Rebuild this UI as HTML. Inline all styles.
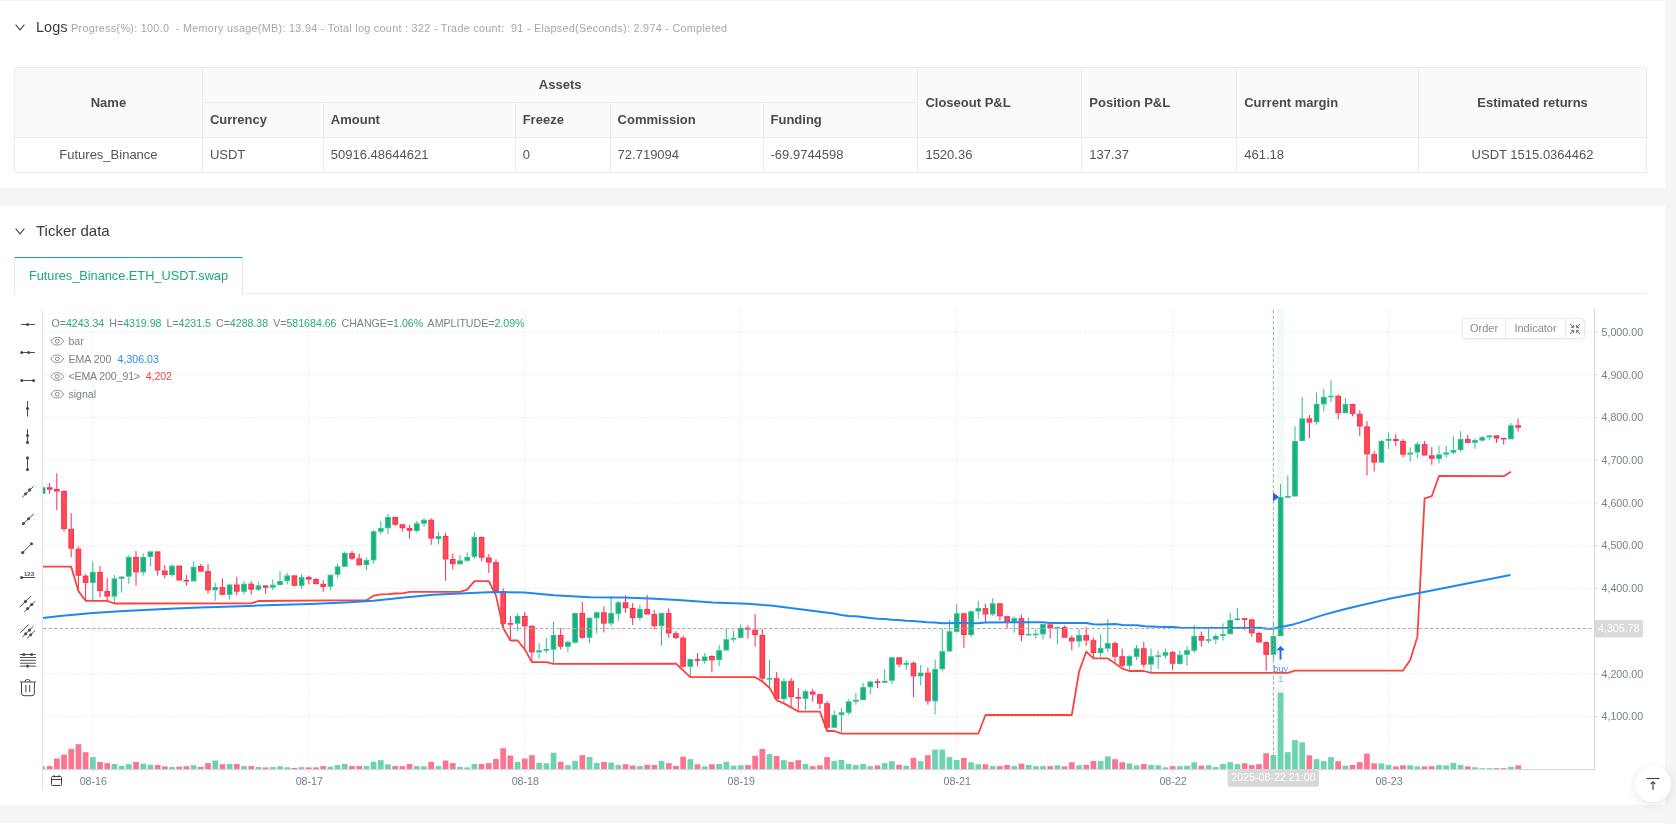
<!DOCTYPE html>
<html lang="en"><head><meta charset="utf-8"><title>Backtest</title>
<style>
*{box-sizing:border-box}
html,body{margin:0;padding:0}
body{width:1676px;height:824px;overflow:hidden;background:#f4f5f7;font-family:"Liberation Sans",sans-serif;color:#333;position:relative}
.card{position:absolute;left:0;width:1665px;background:#fff;will-change:transform}
#c1{top:1px;height:187px}
#c2{top:206px;height:599px}
#c3{top:823px;height:10px}
.hd{position:absolute;left:0;height:20px;display:flex;align-items:center;white-space:nowrap}
.hd svg{position:absolute;left:15px;top:7px}
.hd .t{position:absolute;left:36px;top:0;font-size:14.5px;line-height:20px;color:#3b3b3b}
.hd .s{position:absolute;left:71px;top:1px;font-size:10.8px;line-height:20px;color:#a6a6a6;letter-spacing:0.29px;white-space:pre}
table{position:absolute;left:14px;top:66px;width:1633px;border-collapse:separate;border-spacing:0;font-size:13px;color:#555;border-top:1px solid #ebebeb;border-left:1px solid #ebebeb;border-radius:3px}
th,td{border-right:1px solid #ebebeb;border-bottom:1px solid #ebebeb;height:35px;padding:0 0 0 7px;text-align:left;white-space:nowrap;font-weight:400}
th{background:#fafafa;font-weight:700;color:#4a4a4a}
.c{text-align:center;padding-left:0}
tbody td,thead tr:nth-child(2) th,thead th[colspan]{padding-bottom:2px}
.tab{position:absolute;left:14px;top:51px;width:229px;height:37px;border-top:1px solid #1bad7f;border-left:1px solid #e8e8e8;border-right:1px solid #e8e8e8;background:#fff;color:#1aa97b;font-size:12.75px;line-height:36px;text-align:center}
.tabline{position:absolute;left:14px;top:87px;width:1633px;height:1px;background:#ececec}
#chart{position:absolute;left:0;top:0}
.btns{position:absolute;left:1462px;top:112px;width:123px;height:21px;border:1px solid #e9e9e9;border-radius:4px;background:#fff;box-shadow:0 1px 3px rgba(0,0,0,.06);font-size:11px;color:#8a8a8a;line-height:19px}
.btns span{position:absolute;top:0;height:19px;text-align:center}
.btns i{position:absolute;top:0;width:1px;height:19px;background:#ececec}
.totop{position:absolute;left:1635px;top:766px;width:36px;height:36px;border-radius:50%;background:#fff;box-shadow:0 2px 10px rgba(0,0,0,.10)}
</style></head><body>
<div class="card" id="c1">
 <div class="hd" style="top:16px"><svg width="10" height="7" viewBox="0 0 10 7"><path d="M0.600 0.600L5 5.800L9.400 0.600" stroke="#444" stroke-width="1.1" fill="none"/></svg><span class="t">Logs</span><span class="s">Progress(%): 100.0  - Memory usage(MB): 13.94 - Total log count : 322 - Trade count:  91 - Elapsed(Seconds): 2.974 - Completed</span></div>
 <table>
  <colgroup><col style="width:188px"><col style="width:121px"><col style="width:192px"><col style="width:95px"><col style="width:153px"><col style="width:155px"><col style="width:164px"><col style="width:155px"><col style="width:182px"><col style="width:228px"></colgroup>
  <thead>
  <tr><th rowspan="2" class="c">Name</th><th colspan="5" class="c">Assets</th><th rowspan="2">Closeout P&amp;L</th><th rowspan="2">Position P&amp;L</th><th rowspan="2">Current margin</th><th rowspan="2" class="c">Estimated returns</th></tr>
  <tr><th>Currency</th><th>Amount</th><th>Freeze</th><th>Commission</th><th>Funding</th></tr>
  </thead>
  <tbody>
  <tr><td class="c">Futures_Binance</td><td>USDT</td><td>50916.48644621</td><td>0</td><td>72.719094</td><td>-69.9744598</td><td>1520.36</td><td>137.37</td><td>461.18</td><td class="c">USDT 1515.0364462</td></tr>
  </tbody>
 </table>
</div>
<div class="card" id="c2">
 <div class="hd" style="top:15px"><svg width="10" height="7" viewBox="0 0 10 7"><path d="M0.600 0.600L5 5.800L9.400 0.600" stroke="#444" stroke-width="1.1" fill="none"/></svg><span class="t" style="font-size:15px">Ticker data</span></div>
 <div class="tabline"></div>
 <div class="tab">Futures_Binance.ETH_USDT.swap</div>
 <svg id="chart" width="1665" height="599" viewBox="0 206 1665 599" font-family="Liberation Sans, sans-serif">
<g stroke="#e9e9e9" stroke-width="1" stroke-dasharray="1.82 1.82" fill="none">
<path d="M43 332.0H1594"/>
<path d="M43 374.7H1594"/>
<path d="M43 417.4H1594"/>
<path d="M43 460.2H1594"/>
<path d="M43 502.9H1594"/>
<path d="M43 545.6H1594"/>
<path d="M43 588.3H1594"/>
<path d="M43 631.0H1594"/>
<path d="M43 673.8H1594"/>
<path d="M43 716.5H1594"/>
<path d="M92.84 309V769"/>
<path d="M308.80 309V769"/>
<path d="M524.75 309V769"/>
<path d="M740.71 309V769"/>
<path d="M956.66 309V769"/>
<path d="M1172.62 309V769"/>
<path d="M1388.57 309V769"/>
</g>
<rect x="1277" y="309" width="7" height="460" fill="#eef7f0" opacity="0.8"/>
<g id="vol">
<rect x="43.0" y="766.4" width="2.1" height="2.6" fill="#6cd3b0"/>
<rect x="46.8" y="766.1" width="5.7" height="2.9" fill="#fb7490"/>
<rect x="54.0" y="758.5" width="5.7" height="10.5" fill="#fb7490"/>
<rect x="61.2" y="754.6" width="5.7" height="14.4" fill="#fb7490"/>
<rect x="68.4" y="748.8" width="5.7" height="20.2" fill="#fb7490"/>
<rect x="75.6" y="744.2" width="5.7" height="24.8" fill="#fb7490"/>
<rect x="82.8" y="752.2" width="5.7" height="16.8" fill="#fb7490"/>
<rect x="90.0" y="757.1" width="5.7" height="11.9" fill="#6cd3b0"/>
<rect x="97.2" y="761.9" width="5.7" height="7.1" fill="#fb7490"/>
<rect x="104.4" y="763.1" width="5.7" height="5.9" fill="#fb7490"/>
<rect x="111.6" y="764.0" width="5.7" height="5.0" fill="#6cd3b0"/>
<rect x="118.8" y="765.9" width="5.7" height="3.1" fill="#6cd3b0"/>
<rect x="126.0" y="764.2" width="5.7" height="4.8" fill="#6cd3b0"/>
<rect x="133.2" y="762.0" width="5.7" height="7.0" fill="#fb7490"/>
<rect x="140.4" y="763.6" width="5.7" height="5.4" fill="#6cd3b0"/>
<rect x="147.6" y="764.7" width="5.7" height="4.3" fill="#6cd3b0"/>
<rect x="154.8" y="765.0" width="5.7" height="4.0" fill="#fb7490"/>
<rect x="162.0" y="766.4" width="5.7" height="2.6" fill="#fb7490"/>
<rect x="169.2" y="767.0" width="5.7" height="2.0" fill="#6cd3b0"/>
<rect x="176.4" y="766.7" width="5.7" height="2.3" fill="#fb7490"/>
<rect x="183.6" y="766.2" width="5.7" height="2.8" fill="#fb7490"/>
<rect x="190.8" y="765.3" width="5.7" height="3.7" fill="#6cd3b0"/>
<rect x="198.0" y="766.8" width="5.7" height="2.2" fill="#fb7490"/>
<rect x="205.2" y="763.1" width="5.7" height="5.9" fill="#fb7490"/>
<rect x="212.4" y="760.5" width="5.7" height="8.5" fill="#6cd3b0"/>
<rect x="219.6" y="764.2" width="5.7" height="4.8" fill="#fb7490"/>
<rect x="226.8" y="764.0" width="5.7" height="5.0" fill="#6cd3b0"/>
<rect x="234.0" y="764.0" width="5.7" height="5.0" fill="#fb7490"/>
<rect x="241.2" y="766.1" width="5.7" height="2.9" fill="#6cd3b0"/>
<rect x="248.4" y="766.1" width="5.7" height="2.9" fill="#fb7490"/>
<rect x="255.6" y="767.0" width="5.7" height="2.0" fill="#6cd3b0"/>
<rect x="262.8" y="767.4" width="5.7" height="1.6" fill="#fb7490"/>
<rect x="270.0" y="767.1" width="5.7" height="1.9" fill="#6cd3b0"/>
<rect x="277.2" y="766.4" width="5.7" height="2.6" fill="#6cd3b0"/>
<rect x="284.4" y="767.3" width="5.7" height="1.7" fill="#6cd3b0"/>
<rect x="291.5" y="767.9" width="5.7" height="1.1" fill="#fb7490"/>
<rect x="298.7" y="767.1" width="5.7" height="1.9" fill="#6cd3b0"/>
<rect x="305.9" y="767.4" width="5.7" height="1.6" fill="#fb7490"/>
<rect x="313.1" y="767.4" width="5.7" height="1.6" fill="#fb7490"/>
<rect x="320.3" y="766.1" width="5.7" height="2.9" fill="#fb7490"/>
<rect x="327.5" y="766.7" width="5.7" height="2.3" fill="#6cd3b0"/>
<rect x="334.7" y="765.1" width="5.7" height="3.9" fill="#6cd3b0"/>
<rect x="341.9" y="764.0" width="5.7" height="5.0" fill="#6cd3b0"/>
<rect x="349.1" y="766.1" width="5.7" height="2.9" fill="#fb7490"/>
<rect x="356.3" y="766.1" width="5.7" height="2.9" fill="#fb7490"/>
<rect x="363.5" y="766.1" width="5.7" height="2.9" fill="#6cd3b0"/>
<rect x="370.7" y="761.7" width="5.7" height="7.3" fill="#6cd3b0"/>
<rect x="377.9" y="760.2" width="5.7" height="8.8" fill="#6cd3b0"/>
<rect x="385.1" y="764.3" width="5.7" height="4.7" fill="#6cd3b0"/>
<rect x="392.3" y="766.1" width="5.7" height="2.9" fill="#fb7490"/>
<rect x="399.5" y="766.2" width="5.7" height="2.8" fill="#fb7490"/>
<rect x="406.7" y="764.0" width="5.7" height="5.0" fill="#fb7490"/>
<rect x="413.9" y="766.1" width="5.7" height="2.9" fill="#6cd3b0"/>
<rect x="421.1" y="766.4" width="5.7" height="2.6" fill="#6cd3b0"/>
<rect x="428.3" y="761.9" width="5.7" height="7.1" fill="#fb7490"/>
<rect x="435.5" y="766.1" width="5.7" height="2.9" fill="#6cd3b0"/>
<rect x="442.7" y="760.5" width="5.7" height="8.5" fill="#fb7490"/>
<rect x="449.9" y="763.1" width="5.7" height="5.9" fill="#fb7490"/>
<rect x="457.1" y="767.0" width="5.7" height="2.0" fill="#6cd3b0"/>
<rect x="464.3" y="767.4" width="5.7" height="1.6" fill="#6cd3b0"/>
<rect x="471.5" y="764.0" width="5.7" height="5.0" fill="#6cd3b0"/>
<rect x="478.7" y="764.0" width="5.7" height="5.0" fill="#fb7490"/>
<rect x="485.9" y="763.1" width="5.7" height="5.9" fill="#fb7490"/>
<rect x="493.1" y="758.9" width="5.7" height="10.1" fill="#fb7490"/>
<rect x="500.3" y="748.2" width="5.7" height="20.8" fill="#fb7490"/>
<rect x="507.5" y="755.5" width="5.7" height="13.5" fill="#fb7490"/>
<rect x="514.7" y="762.0" width="5.7" height="7.0" fill="#6cd3b0"/>
<rect x="521.9" y="758.6" width="5.7" height="10.4" fill="#fb7490"/>
<rect x="529.1" y="755.2" width="5.7" height="13.8" fill="#fb7490"/>
<rect x="536.3" y="762.8" width="5.7" height="6.2" fill="#6cd3b0"/>
<rect x="543.5" y="763.3" width="5.7" height="5.7" fill="#6cd3b0"/>
<rect x="550.7" y="752.7" width="5.7" height="16.3" fill="#6cd3b0"/>
<rect x="557.9" y="761.9" width="5.7" height="7.1" fill="#fb7490"/>
<rect x="565.1" y="765.1" width="5.7" height="3.9" fill="#6cd3b0"/>
<rect x="572.3" y="760.8" width="5.7" height="8.2" fill="#6cd3b0"/>
<rect x="579.5" y="755.2" width="5.7" height="13.8" fill="#fb7490"/>
<rect x="586.7" y="757.1" width="5.7" height="11.9" fill="#6cd3b0"/>
<rect x="593.9" y="763.0" width="5.7" height="6.0" fill="#6cd3b0"/>
<rect x="601.1" y="761.9" width="5.7" height="7.1" fill="#fb7490"/>
<rect x="608.3" y="762.5" width="5.7" height="6.5" fill="#6cd3b0"/>
<rect x="615.5" y="765.1" width="5.7" height="3.9" fill="#6cd3b0"/>
<rect x="622.7" y="764.2" width="5.7" height="4.8" fill="#fb7490"/>
<rect x="629.9" y="765.6" width="5.7" height="3.4" fill="#fb7490"/>
<rect x="637.1" y="766.1" width="5.7" height="2.9" fill="#6cd3b0"/>
<rect x="644.3" y="764.8" width="5.7" height="4.2" fill="#fb7490"/>
<rect x="651.5" y="765.0" width="5.7" height="4.0" fill="#fb7490"/>
<rect x="658.7" y="760.9" width="5.7" height="8.1" fill="#6cd3b0"/>
<rect x="665.9" y="763.1" width="5.7" height="5.9" fill="#fb7490"/>
<rect x="673.1" y="765.9" width="5.7" height="3.1" fill="#fb7490"/>
<rect x="680.3" y="756.6" width="5.7" height="12.4" fill="#fb7490"/>
<rect x="687.5" y="759.2" width="5.7" height="9.8" fill="#6cd3b0"/>
<rect x="694.7" y="764.3" width="5.7" height="4.7" fill="#fb7490"/>
<rect x="701.9" y="766.4" width="5.7" height="2.6" fill="#6cd3b0"/>
<rect x="709.1" y="764.3" width="5.7" height="4.7" fill="#fb7490"/>
<rect x="716.3" y="764.0" width="5.7" height="5.0" fill="#6cd3b0"/>
<rect x="723.5" y="761.7" width="5.7" height="7.3" fill="#6cd3b0"/>
<rect x="730.7" y="765.7" width="5.7" height="3.3" fill="#6cd3b0"/>
<rect x="737.9" y="765.3" width="5.7" height="3.7" fill="#6cd3b0"/>
<rect x="745.1" y="765.1" width="5.7" height="3.9" fill="#fb7490"/>
<rect x="752.3" y="755.8" width="5.7" height="13.2" fill="#fb7490"/>
<rect x="759.5" y="749.0" width="5.7" height="20.0" fill="#fb7490"/>
<rect x="766.6" y="754.1" width="5.7" height="14.9" fill="#6cd3b0"/>
<rect x="773.8" y="756.0" width="5.7" height="13.0" fill="#fb7490"/>
<rect x="781.0" y="760.2" width="5.7" height="8.8" fill="#6cd3b0"/>
<rect x="788.2" y="762.0" width="5.7" height="7.0" fill="#fb7490"/>
<rect x="795.4" y="760.2" width="5.7" height="8.8" fill="#fb7490"/>
<rect x="802.6" y="764.0" width="5.7" height="5.0" fill="#6cd3b0"/>
<rect x="809.8" y="766.2" width="5.7" height="2.8" fill="#fb7490"/>
<rect x="817.0" y="765.3" width="5.7" height="3.7" fill="#fb7490"/>
<rect x="824.2" y="757.1" width="5.7" height="11.9" fill="#fb7490"/>
<rect x="831.4" y="760.9" width="5.7" height="8.1" fill="#6cd3b0"/>
<rect x="838.6" y="760.0" width="5.7" height="9.0" fill="#6cd3b0"/>
<rect x="845.8" y="763.9" width="5.7" height="5.1" fill="#6cd3b0"/>
<rect x="853.0" y="765.1" width="5.7" height="3.9" fill="#6cd3b0"/>
<rect x="860.2" y="764.0" width="5.7" height="5.0" fill="#6cd3b0"/>
<rect x="867.4" y="766.2" width="5.7" height="2.8" fill="#6cd3b0"/>
<rect x="874.6" y="765.4" width="5.7" height="3.6" fill="#fb7490"/>
<rect x="881.8" y="763.1" width="5.7" height="5.9" fill="#6cd3b0"/>
<rect x="889.0" y="761.2" width="5.7" height="7.8" fill="#6cd3b0"/>
<rect x="896.2" y="764.8" width="5.7" height="4.2" fill="#fb7490"/>
<rect x="903.4" y="765.7" width="5.7" height="3.3" fill="#6cd3b0"/>
<rect x="910.6" y="757.8" width="5.7" height="11.2" fill="#fb7490"/>
<rect x="917.8" y="761.2" width="5.7" height="7.8" fill="#6cd3b0"/>
<rect x="925.0" y="755.2" width="5.7" height="13.8" fill="#fb7490"/>
<rect x="932.2" y="749.6" width="5.7" height="19.4" fill="#6cd3b0"/>
<rect x="939.4" y="749.6" width="5.7" height="19.4" fill="#6cd3b0"/>
<rect x="946.6" y="757.1" width="5.7" height="11.9" fill="#6cd3b0"/>
<rect x="953.8" y="760.0" width="5.7" height="9.0" fill="#6cd3b0"/>
<rect x="961.0" y="758.0" width="5.7" height="11.0" fill="#fb7490"/>
<rect x="968.2" y="762.3" width="5.7" height="6.7" fill="#6cd3b0"/>
<rect x="975.4" y="764.3" width="5.7" height="4.7" fill="#6cd3b0"/>
<rect x="982.6" y="764.3" width="5.7" height="4.7" fill="#fb7490"/>
<rect x="989.8" y="766.1" width="5.7" height="2.9" fill="#6cd3b0"/>
<rect x="997.0" y="766.2" width="5.7" height="2.8" fill="#fb7490"/>
<rect x="1004.2" y="765.0" width="5.7" height="4.0" fill="#fb7490"/>
<rect x="1011.4" y="766.1" width="5.7" height="2.9" fill="#6cd3b0"/>
<rect x="1018.6" y="763.6" width="5.7" height="5.4" fill="#fb7490"/>
<rect x="1025.8" y="765.0" width="5.7" height="4.0" fill="#6cd3b0"/>
<rect x="1033.0" y="766.2" width="5.7" height="2.8" fill="#6cd3b0"/>
<rect x="1040.2" y="766.2" width="5.7" height="2.8" fill="#6cd3b0"/>
<rect x="1047.4" y="766.2" width="5.7" height="2.8" fill="#fb7490"/>
<rect x="1054.6" y="765.3" width="5.7" height="3.7" fill="#6cd3b0"/>
<rect x="1061.8" y="766.4" width="5.7" height="2.6" fill="#fb7490"/>
<rect x="1069.0" y="762.3" width="5.7" height="6.7" fill="#fb7490"/>
<rect x="1076.2" y="765.3" width="5.7" height="3.7" fill="#6cd3b0"/>
<rect x="1083.4" y="764.8" width="5.7" height="4.2" fill="#fb7490"/>
<rect x="1090.6" y="760.9" width="5.7" height="8.1" fill="#fb7490"/>
<rect x="1097.8" y="760.9" width="5.7" height="8.1" fill="#6cd3b0"/>
<rect x="1105.0" y="756.3" width="5.7" height="12.7" fill="#6cd3b0"/>
<rect x="1112.2" y="759.2" width="5.7" height="9.8" fill="#fb7490"/>
<rect x="1119.4" y="762.3" width="5.7" height="6.7" fill="#fb7490"/>
<rect x="1126.6" y="763.4" width="5.7" height="5.6" fill="#6cd3b0"/>
<rect x="1133.8" y="765.4" width="5.7" height="3.6" fill="#6cd3b0"/>
<rect x="1141.0" y="764.0" width="5.7" height="5.0" fill="#fb7490"/>
<rect x="1148.2" y="765.1" width="5.7" height="3.9" fill="#6cd3b0"/>
<rect x="1155.4" y="765.3" width="5.7" height="3.7" fill="#6cd3b0"/>
<rect x="1162.6" y="767.3" width="5.7" height="1.7" fill="#6cd3b0"/>
<rect x="1169.8" y="766.2" width="5.7" height="2.8" fill="#fb7490"/>
<rect x="1177.0" y="766.2" width="5.7" height="2.8" fill="#6cd3b0"/>
<rect x="1184.2" y="765.7" width="5.7" height="3.3" fill="#6cd3b0"/>
<rect x="1191.4" y="762.3" width="5.7" height="6.7" fill="#6cd3b0"/>
<rect x="1198.6" y="765.7" width="5.7" height="3.3" fill="#fb7490"/>
<rect x="1205.8" y="765.3" width="5.7" height="3.7" fill="#6cd3b0"/>
<rect x="1213.0" y="767.0" width="5.7" height="2.0" fill="#6cd3b0"/>
<rect x="1220.2" y="764.0" width="5.7" height="5.0" fill="#6cd3b0"/>
<rect x="1227.4" y="762.2" width="5.7" height="6.8" fill="#6cd3b0"/>
<rect x="1234.6" y="764.2" width="5.7" height="4.8" fill="#6cd3b0"/>
<rect x="1241.8" y="763.3" width="5.7" height="5.7" fill="#fb7490"/>
<rect x="1248.9" y="765.1" width="5.7" height="3.9" fill="#fb7490"/>
<rect x="1256.1" y="764.2" width="5.7" height="4.8" fill="#fb7490"/>
<rect x="1263.3" y="753.2" width="5.7" height="15.8" fill="#fb7490"/>
<rect x="1270.5" y="755.0" width="5.7" height="14.0" fill="#6cd3b0"/>
<rect x="1277.7" y="692.6" width="5.7" height="76.4" fill="#6cd3b0"/>
<rect x="1284.9" y="752.1" width="5.7" height="16.9" fill="#6cd3b0"/>
<rect x="1292.1" y="740.1" width="5.7" height="28.9" fill="#6cd3b0"/>
<rect x="1299.3" y="742.3" width="5.7" height="26.7" fill="#6cd3b0"/>
<rect x="1306.5" y="755.3" width="5.7" height="13.7" fill="#fb7490"/>
<rect x="1313.7" y="759.2" width="5.7" height="9.8" fill="#6cd3b0"/>
<rect x="1320.9" y="761.1" width="5.7" height="7.9" fill="#6cd3b0"/>
<rect x="1328.1" y="757.1" width="5.7" height="11.9" fill="#6cd3b0"/>
<rect x="1335.3" y="761.2" width="5.7" height="7.8" fill="#fb7490"/>
<rect x="1342.5" y="765.7" width="5.7" height="3.3" fill="#6cd3b0"/>
<rect x="1349.7" y="765.0" width="5.7" height="4.0" fill="#fb7490"/>
<rect x="1356.9" y="762.2" width="5.7" height="6.8" fill="#fb7490"/>
<rect x="1364.1" y="753.6" width="5.7" height="15.4" fill="#fb7490"/>
<rect x="1371.3" y="763.3" width="5.7" height="5.7" fill="#fb7490"/>
<rect x="1378.5" y="763.4" width="5.7" height="5.6" fill="#6cd3b0"/>
<rect x="1385.7" y="765.0" width="5.7" height="4.0" fill="#6cd3b0"/>
<rect x="1392.9" y="766.4" width="5.7" height="2.6" fill="#fb7490"/>
<rect x="1400.1" y="765.3" width="5.7" height="3.7" fill="#fb7490"/>
<rect x="1407.3" y="765.4" width="5.7" height="3.6" fill="#6cd3b0"/>
<rect x="1414.5" y="766.4" width="5.7" height="2.6" fill="#6cd3b0"/>
<rect x="1421.7" y="766.4" width="5.7" height="2.6" fill="#fb7490"/>
<rect x="1428.9" y="766.2" width="5.7" height="2.8" fill="#fb7490"/>
<rect x="1436.1" y="765.1" width="5.7" height="3.9" fill="#6cd3b0"/>
<rect x="1443.3" y="765.4" width="5.7" height="3.6" fill="#6cd3b0"/>
<rect x="1450.5" y="763.0" width="5.7" height="6.0" fill="#6cd3b0"/>
<rect x="1457.7" y="765.1" width="5.7" height="3.9" fill="#6cd3b0"/>
<rect x="1464.9" y="766.4" width="5.7" height="2.6" fill="#fb7490"/>
<rect x="1472.1" y="767.3" width="5.7" height="1.7" fill="#6cd3b0"/>
<rect x="1479.3" y="768.2" width="5.7" height="0.8" fill="#6cd3b0"/>
<rect x="1486.5" y="768.2" width="5.7" height="0.8" fill="#6cd3b0"/>
<rect x="1493.7" y="768.2" width="5.7" height="0.8" fill="#fb7490"/>
<rect x="1500.9" y="768.2" width="5.7" height="0.8" fill="#fb7490"/>
<rect x="1508.1" y="766.8" width="5.7" height="2.2" fill="#6cd3b0"/>
<rect x="1515.3" y="765.4" width="5.7" height="3.6" fill="#fb7490"/>
</g>
<g id="candles" stroke-width="1">
<rect x="43" y="487.3" width="2.3" height="6.4" fill="#1aaf80"/>
<path d="M49.6 483.1V487.3M49.6 489.7V493.7" stroke="#f92855" fill="none"/>
<rect x="47.4" y="487.8" width="4.600" height="1.4" fill="#ff4d4f" stroke="#f92855"/>
<path d="M56.8 473.3V488.9M56.8 491.5V510.1" stroke="#f92855" fill="none"/>
<rect x="54.5" y="489.4" width="4.600" height="1.6" fill="#ff4d4f" stroke="#f92855"/>
<path d="M64.0 490.4V490.9M64.0 529.2V531.6" stroke="#f92855" fill="none"/>
<rect x="61.7" y="491.4" width="4.600" height="37.3" fill="#ff4d4f" stroke="#f92855"/>
<path d="M71.2 513.2V528.8M71.2 548.7V557.4" stroke="#f92855" fill="none"/>
<rect x="68.9" y="529.3" width="4.600" height="18.9" fill="#ff4d4f" stroke="#f92855"/>
<path d="M78.4 546.5V548.7M78.4 575.6V591.1" stroke="#f92855" fill="none"/>
<rect x="76.1" y="549.2" width="4.600" height="26.0" fill="#ff4d4f" stroke="#f92855"/>
<path d="M85.6 574.2V575.6M85.6 582.9V600.2" stroke="#f92855" fill="none"/>
<rect x="83.3" y="576.1" width="4.600" height="6.3" fill="#ff4d4f" stroke="#f92855"/>
<path d="M92.8 561.4V572.0M92.8 582.9V600.2" stroke="#2dc08e" fill="none"/>
<rect x="90.5" y="572.5" width="4.600" height="9.9" fill="#1aaf80" stroke="#2dc08e"/>
<path d="M100.0 566.2V572.0M100.0 591.1V597.5" stroke="#f92855" fill="none"/>
<rect x="97.7" y="572.5" width="4.600" height="18.1" fill="#ff4d4f" stroke="#f92855"/>
<path d="M107.2 578.0V591.1M107.2 596.6V600.2" stroke="#f92855" fill="none"/>
<rect x="104.9" y="591.6" width="4.600" height="4.5" fill="#ff4d4f" stroke="#f92855"/>
<path d="M114.4 575.1V578.4M114.4 596.6V603.0" stroke="#2dc08e" fill="none"/>
<rect x="112.1" y="578.9" width="4.600" height="17.2" fill="#1aaf80" stroke="#2dc08e"/>
<path d="M121.6 576.2V576.6M121.6 578.7V592.6" stroke="#2dc08e" fill="none"/>
<rect x="119.3" y="577.1" width="4.600" height="1.2" fill="#1aaf80" stroke="#2dc08e"/>
<path d="M128.8 555.2V556.9M128.8 576.6V583.8" stroke="#2dc08e" fill="none"/>
<rect x="126.5" y="557.4" width="4.600" height="18.7" fill="#1aaf80" stroke="#2dc08e"/>
<path d="M136.0 551.1V556.9M136.0 572.4V585.7" stroke="#f92855" fill="none"/>
<rect x="133.7" y="557.4" width="4.600" height="14.5" fill="#ff4d4f" stroke="#f92855"/>
<path d="M143.2 553.4V556.9M143.2 572.4V575.6" stroke="#2dc08e" fill="none"/>
<rect x="140.9" y="557.4" width="4.600" height="14.5" fill="#1aaf80" stroke="#2dc08e"/>
<path d="M150.4 551.1V551.4M150.4 556.9V566.5" stroke="#2dc08e" fill="none"/>
<rect x="148.1" y="551.9" width="4.600" height="4.5" fill="#1aaf80" stroke="#2dc08e"/>
<path d="M157.6 551.4V551.4M157.6 570.5V575.6" stroke="#f92855" fill="none"/>
<rect x="155.3" y="551.9" width="4.600" height="18.1" fill="#ff4d4f" stroke="#f92855"/>
<path d="M164.8 565.1V570.5M164.8 575.1V578.4" stroke="#f92855" fill="none"/>
<rect x="162.5" y="571.0" width="4.600" height="3.6" fill="#ff4d4f" stroke="#f92855"/>
<path d="M172.0 564.4V565.6M172.0 575.1V576.6" stroke="#2dc08e" fill="none"/>
<rect x="169.7" y="566.1" width="4.600" height="8.5" fill="#1aaf80" stroke="#2dc08e"/>
<path d="M179.2 565.6V565.6M179.2 580.6V580.6" stroke="#f92855" fill="none"/>
<rect x="176.9" y="566.1" width="4.600" height="13.9" fill="#ff4d4f" stroke="#f92855"/>
<path d="M186.4 575.1V579.9M186.4 581.5V585.7" stroke="#f92855" fill="none"/>
<rect x="184.1" y="580.4" width="4.600" height="0.6" fill="#ff4d4f" stroke="#f92855"/>
<path d="M193.6 561.4V566.7M193.6 581.4V581.4" stroke="#2dc08e" fill="none"/>
<rect x="191.3" y="567.2" width="4.600" height="13.7" fill="#1aaf80" stroke="#2dc08e"/>
<path d="M200.8 564.0V566.0M200.8 571.6V571.6" stroke="#f92855" fill="none"/>
<rect x="198.5" y="566.5" width="4.600" height="4.6" fill="#ff4d4f" stroke="#f92855"/>
<path d="M208.0 564.0V571.1M208.0 590.5V593.8" stroke="#f92855" fill="none"/>
<rect x="205.7" y="571.6" width="4.600" height="18.3" fill="#ff4d4f" stroke="#f92855"/>
<path d="M215.2 583.1V587.1M215.2 590.5V600.7" stroke="#2dc08e" fill="none"/>
<rect x="212.9" y="587.6" width="4.600" height="2.3" fill="#1aaf80" stroke="#2dc08e"/>
<path d="M222.4 578.3V587.1M222.4 594.7V595.4" stroke="#f92855" fill="none"/>
<rect x="220.1" y="587.6" width="4.600" height="6.6" fill="#ff4d4f" stroke="#f92855"/>
<path d="M229.6 584.1V584.5M229.6 594.7V599.7" stroke="#2dc08e" fill="none"/>
<rect x="227.3" y="585.0" width="4.600" height="9.3" fill="#1aaf80" stroke="#2dc08e"/>
<path d="M236.8 576.7V584.5M236.8 591.7V595.4" stroke="#f92855" fill="none"/>
<rect x="234.5" y="585.0" width="4.600" height="6.2" fill="#ff4d4f" stroke="#f92855"/>
<path d="M244.0 581.4V583.7M244.0 591.7V594.7" stroke="#2dc08e" fill="none"/>
<rect x="241.7" y="584.2" width="4.600" height="7.0" fill="#1aaf80" stroke="#2dc08e"/>
<path d="M251.2 581.1V583.7M251.2 589.7V594.7" stroke="#f92855" fill="none"/>
<rect x="248.9" y="584.2" width="4.600" height="5.0" fill="#ff4d4f" stroke="#f92855"/>
<path d="M258.4 582.1V585.4M258.4 589.7V591.0" stroke="#2dc08e" fill="none"/>
<rect x="256.1" y="585.9" width="4.600" height="3.3" fill="#1aaf80" stroke="#2dc08e"/>
<path d="M265.6 585.0V585.4M265.6 587.7V593.8" stroke="#f92855" fill="none"/>
<rect x="263.3" y="585.9" width="4.600" height="1.3" fill="#ff4d4f" stroke="#f92855"/>
<path d="M272.8 579.4V584.7M272.8 587.7V590.1" stroke="#2dc08e" fill="none"/>
<rect x="270.5" y="585.2" width="4.600" height="1.9" fill="#1aaf80" stroke="#2dc08e"/>
<path d="M280.0 571.1V581.1M280.0 585.0V585.4" stroke="#2dc08e" fill="none"/>
<rect x="277.7" y="581.6" width="4.600" height="2.9" fill="#1aaf80" stroke="#2dc08e"/>
<path d="M287.2 573.1V575.4M287.2 581.1V584.5" stroke="#2dc08e" fill="none"/>
<rect x="284.9" y="575.9" width="4.600" height="4.7" fill="#1aaf80" stroke="#2dc08e"/>
<path d="M294.4 575.1V575.4M294.4 585.8V586.3" stroke="#f92855" fill="none"/>
<rect x="292.1" y="575.9" width="4.600" height="9.4" fill="#ff4d4f" stroke="#f92855"/>
<path d="M301.6 574.1V577.1M301.6 585.8V588.7" stroke="#2dc08e" fill="none"/>
<rect x="299.3" y="577.6" width="4.600" height="7.7" fill="#1aaf80" stroke="#2dc08e"/>
<path d="M308.8 575.7V577.1M308.8 579.7V584.5" stroke="#f92855" fill="none"/>
<rect x="306.5" y="577.6" width="4.600" height="1.5" fill="#ff4d4f" stroke="#f92855"/>
<path d="M316.0 578.1V579.0M316.0 584.1V584.5" stroke="#f92855" fill="none"/>
<rect x="313.7" y="579.5" width="4.600" height="4.1" fill="#ff4d4f" stroke="#f92855"/>
<path d="M323.2 580.1V583.8M323.2 586.9V591.7" stroke="#f92855" fill="none"/>
<rect x="320.9" y="584.3" width="4.600" height="2.1" fill="#ff4d4f" stroke="#f92855"/>
<path d="M330.4 574.5V574.7M330.4 586.7V590.1" stroke="#2dc08e" fill="none"/>
<rect x="328.1" y="575.2" width="4.600" height="11.0" fill="#1aaf80" stroke="#2dc08e"/>
<path d="M337.6 564.0V566.4M337.6 574.7V577.8" stroke="#2dc08e" fill="none"/>
<rect x="335.3" y="566.9" width="4.600" height="7.3" fill="#1aaf80" stroke="#2dc08e"/>
<path d="M344.8 551.7V553.0M344.8 566.8V566.8" stroke="#2dc08e" fill="none"/>
<rect x="342.5" y="553.5" width="4.600" height="12.7" fill="#1aaf80" stroke="#2dc08e"/>
<path d="M352.0 551.0V553.0M352.0 558.8V560.0" stroke="#f92855" fill="none"/>
<rect x="349.7" y="553.5" width="4.600" height="4.7" fill="#ff4d4f" stroke="#f92855"/>
<path d="M359.2 553.7V558.4M359.2 565.3V565.7" stroke="#f92855" fill="none"/>
<rect x="356.9" y="558.9" width="4.600" height="5.9" fill="#ff4d4f" stroke="#f92855"/>
<path d="M366.4 557.7V560.1M366.4 565.0V570.4" stroke="#2dc08e" fill="none"/>
<rect x="364.1" y="560.6" width="4.600" height="3.9" fill="#1aaf80" stroke="#2dc08e"/>
<path d="M373.6 530.1V531.3M373.6 560.4V563.7" stroke="#2dc08e" fill="none"/>
<rect x="371.3" y="531.8" width="4.600" height="28.1" fill="#1aaf80" stroke="#2dc08e"/>
<path d="M380.8 521.0V528.1M380.8 531.7V534.1" stroke="#2dc08e" fill="none"/>
<rect x="378.5" y="528.6" width="4.600" height="2.6" fill="#1aaf80" stroke="#2dc08e"/>
<path d="M388.0 513.9V517.0M388.0 528.4V534.1" stroke="#2dc08e" fill="none"/>
<rect x="385.7" y="517.5" width="4.600" height="10.3" fill="#1aaf80" stroke="#2dc08e"/>
<path d="M395.2 517.0V517.0M395.2 524.7V526.0" stroke="#f92855" fill="none"/>
<rect x="392.9" y="517.5" width="4.600" height="6.7" fill="#ff4d4f" stroke="#f92855"/>
<path d="M402.4 524.1V524.3M402.4 528.4V531.7" stroke="#f92855" fill="none"/>
<rect x="400.1" y="524.8" width="4.600" height="3.0" fill="#ff4d4f" stroke="#f92855"/>
<path d="M409.6 525.0V528.1M409.6 530.8V538.8" stroke="#f92855" fill="none"/>
<rect x="407.3" y="528.6" width="4.600" height="1.7" fill="#ff4d4f" stroke="#f92855"/>
<path d="M416.8 521.0V523.3M416.8 531.0V532.6" stroke="#2dc08e" fill="none"/>
<rect x="414.5" y="523.8" width="4.600" height="6.7" fill="#1aaf80" stroke="#2dc08e"/>
<path d="M424.0 518.1V519.7M424.0 523.7V526.8" stroke="#2dc08e" fill="none"/>
<rect x="421.7" y="520.2" width="4.600" height="3.0" fill="#1aaf80" stroke="#2dc08e"/>
<path d="M431.2 518.1V519.7M431.2 538.6V544.8" stroke="#f92855" fill="none"/>
<rect x="428.9" y="520.2" width="4.600" height="17.9" fill="#ff4d4f" stroke="#f92855"/>
<path d="M438.4 531.7V536.1M438.4 539.0V544.4" stroke="#2dc08e" fill="none"/>
<rect x="436.1" y="536.6" width="4.600" height="1.9" fill="#1aaf80" stroke="#2dc08e"/>
<path d="M445.6 532.8V536.1M445.6 559.4V580.8" stroke="#f92855" fill="none"/>
<rect x="443.3" y="536.6" width="4.600" height="22.4" fill="#ff4d4f" stroke="#f92855"/>
<path d="M452.8 553.7V559.0M452.8 564.1V569.5" stroke="#f92855" fill="none"/>
<rect x="450.5" y="559.5" width="4.600" height="4.1" fill="#ff4d4f" stroke="#f92855"/>
<path d="M460.0 555.3V560.4M460.0 564.4V564.4" stroke="#2dc08e" fill="none"/>
<rect x="457.7" y="560.9" width="4.600" height="3.0" fill="#1aaf80" stroke="#2dc08e"/>
<path d="M467.2 552.4V556.8M467.2 560.6V562.0" stroke="#2dc08e" fill="none"/>
<rect x="464.9" y="557.3" width="4.600" height="2.9" fill="#1aaf80" stroke="#2dc08e"/>
<path d="M474.4 532.0V536.8M474.4 556.8V558.8" stroke="#2dc08e" fill="none"/>
<rect x="472.1" y="537.3" width="4.600" height="19.0" fill="#1aaf80" stroke="#2dc08e"/>
<path d="M481.6 536.4V537.0M481.6 557.7V561.4" stroke="#f92855" fill="none"/>
<rect x="479.3" y="537.5" width="4.600" height="19.7" fill="#ff4d4f" stroke="#f92855"/>
<path d="M488.8 554.1V557.4M488.8 562.6V573.1" stroke="#f92855" fill="none"/>
<rect x="486.5" y="557.9" width="4.600" height="4.2" fill="#ff4d4f" stroke="#f92855"/>
<path d="M496.0 559.3V562.1M496.0 591.0V591.4" stroke="#f92855" fill="none"/>
<rect x="493.7" y="562.6" width="4.600" height="27.9" fill="#ff4d4f" stroke="#f92855"/>
<path d="M503.2 588.3V591.0M503.2 623.8V628.1" stroke="#f92855" fill="none"/>
<rect x="500.9" y="591.5" width="4.600" height="31.8" fill="#ff4d4f" stroke="#f92855"/>
<path d="M510.4 616.0V623.1M510.4 624.7V640.1" stroke="#f92855" fill="none"/>
<rect x="508.1" y="623.6" width="4.600" height="0.6" fill="#ff4d4f" stroke="#f92855"/>
<path d="M517.6 613.4V616.0M517.6 623.8V630.7" stroke="#2dc08e" fill="none"/>
<rect x="515.3" y="616.5" width="4.600" height="6.7" fill="#1aaf80" stroke="#2dc08e"/>
<path d="M524.8 611.8V616.0M524.8 626.3V648.7" stroke="#f92855" fill="none"/>
<rect x="522.5" y="616.5" width="4.600" height="9.3" fill="#ff4d4f" stroke="#f92855"/>
<path d="M531.9 625.4V625.8M531.9 652.3V662.1" stroke="#f92855" fill="none"/>
<rect x="529.6" y="626.3" width="4.600" height="25.6" fill="#ff4d4f" stroke="#f92855"/>
<path d="M539.1 643.1V650.3M539.1 652.5V658.5" stroke="#2dc08e" fill="none"/>
<rect x="536.8" y="650.8" width="4.600" height="1.1" fill="#1aaf80" stroke="#2dc08e"/>
<path d="M546.3 637.8V649.1M546.3 650.7V653.0" stroke="#2dc08e" fill="none"/>
<rect x="544.0" y="649.6" width="4.600" height="0.6" fill="#1aaf80" stroke="#2dc08e"/>
<path d="M553.5 621.6V635.0M553.5 649.7V663.4" stroke="#2dc08e" fill="none"/>
<rect x="551.2" y="635.5" width="4.600" height="13.7" fill="#1aaf80" stroke="#2dc08e"/>
<path d="M560.7 628.1V635.0M560.7 646.7V649.4" stroke="#f92855" fill="none"/>
<rect x="558.4" y="635.5" width="4.600" height="10.7" fill="#ff4d4f" stroke="#f92855"/>
<path d="M567.9 640.5V641.8M567.9 646.7V652.1" stroke="#2dc08e" fill="none"/>
<rect x="565.6" y="642.3" width="4.600" height="3.9" fill="#1aaf80" stroke="#2dc08e"/>
<path d="M575.1 613.0V613.1M575.1 642.7V643.8" stroke="#2dc08e" fill="none"/>
<rect x="572.8" y="613.6" width="4.600" height="28.6" fill="#1aaf80" stroke="#2dc08e"/>
<path d="M582.3 602.0V613.1M582.3 637.8V638.7" stroke="#f92855" fill="none"/>
<rect x="580.0" y="613.6" width="4.600" height="23.7" fill="#ff4d4f" stroke="#f92855"/>
<path d="M589.5 617.1V617.8M589.5 637.8V643.1" stroke="#2dc08e" fill="none"/>
<rect x="587.2" y="618.3" width="4.600" height="19.0" fill="#1aaf80" stroke="#2dc08e"/>
<path d="M596.7 611.8V612.3M596.7 618.3V633.1" stroke="#2dc08e" fill="none"/>
<rect x="594.4" y="612.8" width="4.600" height="5.0" fill="#1aaf80" stroke="#2dc08e"/>
<path d="M603.9 606.4V612.3M603.9 623.7V632.5" stroke="#f92855" fill="none"/>
<rect x="601.6" y="612.8" width="4.600" height="10.3" fill="#ff4d4f" stroke="#f92855"/>
<path d="M611.1 596.7V613.1M611.1 623.7V626.1" stroke="#2dc08e" fill="none"/>
<rect x="608.8" y="613.6" width="4.600" height="9.5" fill="#1aaf80" stroke="#2dc08e"/>
<path d="M618.3 601.1V602.3M618.3 613.8V620.7" stroke="#2dc08e" fill="none"/>
<rect x="616.0" y="602.8" width="4.600" height="10.5" fill="#1aaf80" stroke="#2dc08e"/>
<path d="M625.5 595.4V602.3M625.5 608.3V612.7" stroke="#f92855" fill="none"/>
<rect x="623.2" y="602.8" width="4.600" height="5.0" fill="#ff4d4f" stroke="#f92855"/>
<path d="M632.7 603.0V608.0M632.7 618.0V625.1" stroke="#f92855" fill="none"/>
<rect x="630.4" y="608.5" width="4.600" height="9.0" fill="#ff4d4f" stroke="#f92855"/>
<path d="M639.9 604.7V609.0M639.9 618.0V620.7" stroke="#2dc08e" fill="none"/>
<rect x="637.6" y="609.5" width="4.600" height="8.1" fill="#1aaf80" stroke="#2dc08e"/>
<path d="M647.1 595.0V609.0M647.1 614.4V614.4" stroke="#f92855" fill="none"/>
<rect x="644.8" y="609.5" width="4.600" height="4.5" fill="#ff4d4f" stroke="#f92855"/>
<path d="M654.3 610.2V614.1M654.3 626.2V629.6" stroke="#f92855" fill="none"/>
<rect x="652.0" y="614.6" width="4.600" height="11.1" fill="#ff4d4f" stroke="#f92855"/>
<path d="M661.5 613.1V613.1M661.5 626.2V645.6" stroke="#2dc08e" fill="none"/>
<rect x="659.2" y="613.6" width="4.600" height="12.1" fill="#1aaf80" stroke="#2dc08e"/>
<path d="M668.7 608.3V613.1M668.7 633.5V637.6" stroke="#f92855" fill="none"/>
<rect x="666.4" y="613.6" width="4.600" height="19.4" fill="#ff4d4f" stroke="#f92855"/>
<path d="M675.9 631.3V633.2M675.9 637.9V639.3" stroke="#f92855" fill="none"/>
<rect x="673.6" y="633.7" width="4.600" height="3.7" fill="#ff4d4f" stroke="#f92855"/>
<path d="M683.1 635.4V637.6M683.1 666.7V667.7" stroke="#f92855" fill="none"/>
<rect x="680.8" y="638.1" width="4.600" height="28.1" fill="#ff4d4f" stroke="#f92855"/>
<path d="M690.3 659.0V659.0M690.3 666.7V676.4" stroke="#2dc08e" fill="none"/>
<rect x="688.0" y="659.5" width="4.600" height="6.7" fill="#1aaf80" stroke="#2dc08e"/>
<path d="M697.5 653.1V659.2M697.5 660.8V666.2" stroke="#f92855" fill="none"/>
<rect x="695.2" y="659.7" width="4.600" height="0.6" fill="#ff4d4f" stroke="#f92855"/>
<path d="M704.7 653.1V656.5M704.7 661.1V663.6" stroke="#2dc08e" fill="none"/>
<rect x="702.4" y="657.0" width="4.600" height="3.7" fill="#1aaf80" stroke="#2dc08e"/>
<path d="M711.9 655.3V656.0M711.9 660.4V672.4" stroke="#f92855" fill="none"/>
<rect x="709.6" y="656.5" width="4.600" height="3.4" fill="#ff4d4f" stroke="#f92855"/>
<path d="M719.1 645.1V650.2M719.1 660.1V666.2" stroke="#2dc08e" fill="none"/>
<rect x="716.8" y="650.7" width="4.600" height="8.9" fill="#1aaf80" stroke="#2dc08e"/>
<path d="M726.3 628.8V639.3M726.3 650.5V650.5" stroke="#2dc08e" fill="none"/>
<rect x="724.0" y="639.8" width="4.600" height="10.2" fill="#1aaf80" stroke="#2dc08e"/>
<path d="M733.5 631.0V637.9M733.5 639.6V641.9" stroke="#2dc08e" fill="none"/>
<rect x="731.2" y="638.4" width="4.600" height="0.7" fill="#1aaf80" stroke="#2dc08e"/>
<path d="M740.7 624.5V627.7M740.7 637.9V637.9" stroke="#2dc08e" fill="none"/>
<rect x="738.4" y="628.2" width="4.600" height="9.2" fill="#1aaf80" stroke="#2dc08e"/>
<path d="M747.9 625.2V627.7M747.9 629.6V638.6" stroke="#f92855" fill="none"/>
<rect x="745.6" y="628.2" width="4.600" height="0.9" fill="#ff4d4f" stroke="#f92855"/>
<path d="M755.1 614.3V629.6M755.1 634.9V646.6" stroke="#f92855" fill="none"/>
<rect x="752.8" y="630.1" width="4.600" height="4.4" fill="#ff4d4f" stroke="#f92855"/>
<path d="M762.3 629.1V634.9M762.3 678.6V681.2" stroke="#f92855" fill="none"/>
<rect x="760.0" y="635.4" width="4.600" height="42.7" fill="#ff4d4f" stroke="#f92855"/>
<path d="M769.5 660.0V678.0M769.5 679.6V687.1" stroke="#2dc08e" fill="none"/>
<rect x="767.2" y="678.5" width="4.600" height="0.6" fill="#1aaf80" stroke="#2dc08e"/>
<path d="M776.7 672.1V678.2M776.7 699.0V700.5" stroke="#f92855" fill="none"/>
<rect x="774.4" y="678.7" width="4.600" height="19.8" fill="#ff4d4f" stroke="#f92855"/>
<path d="M783.9 678.2V680.8M783.9 699.0V702.3" stroke="#2dc08e" fill="none"/>
<rect x="781.6" y="681.3" width="4.600" height="17.2" fill="#1aaf80" stroke="#2dc08e"/>
<path d="M791.1 678.1V680.8M791.1 697.1V706.5" stroke="#f92855" fill="none"/>
<rect x="788.8" y="681.3" width="4.600" height="15.3" fill="#ff4d4f" stroke="#f92855"/>
<path d="M798.3 688.3V697.0M798.3 698.6V710.9" stroke="#f92855" fill="none"/>
<rect x="796.0" y="697.5" width="4.600" height="0.6" fill="#ff4d4f" stroke="#f92855"/>
<path d="M805.5 690.1V691.2M805.5 698.8V710.2" stroke="#2dc08e" fill="none"/>
<rect x="803.2" y="691.7" width="4.600" height="6.6" fill="#1aaf80" stroke="#2dc08e"/>
<path d="M812.7 688.8V691.5M812.7 694.6V701.4" stroke="#f92855" fill="none"/>
<rect x="810.4" y="692.0" width="4.600" height="2.1" fill="#ff4d4f" stroke="#f92855"/>
<path d="M819.9 693.7V694.2M819.9 703.6V708.7" stroke="#f92855" fill="none"/>
<rect x="817.6" y="694.7" width="4.600" height="8.5" fill="#ff4d4f" stroke="#f92855"/>
<path d="M827.1 701.1V703.2M827.1 727.6V729.1" stroke="#f92855" fill="none"/>
<rect x="824.8" y="703.7" width="4.600" height="23.5" fill="#ff4d4f" stroke="#f92855"/>
<path d="M834.3 710.6V715.0M834.3 727.6V727.6" stroke="#2dc08e" fill="none"/>
<rect x="832.0" y="715.5" width="4.600" height="11.7" fill="#1aaf80" stroke="#2dc08e"/>
<path d="M841.5 708.0V712.3M841.5 715.3V732.7" stroke="#2dc08e" fill="none"/>
<rect x="839.2" y="712.8" width="4.600" height="1.9" fill="#1aaf80" stroke="#2dc08e"/>
<path d="M848.7 699.2V701.4M848.7 712.8V714.8" stroke="#2dc08e" fill="none"/>
<rect x="846.4" y="701.9" width="4.600" height="10.4" fill="#1aaf80" stroke="#2dc08e"/>
<path d="M855.9 693.0V699.7M855.9 701.7V704.8" stroke="#2dc08e" fill="none"/>
<rect x="853.6" y="700.2" width="4.600" height="1.0" fill="#1aaf80" stroke="#2dc08e"/>
<path d="M863.1 682.9V687.2M863.1 700.0V700.0" stroke="#2dc08e" fill="none"/>
<rect x="860.8" y="687.7" width="4.600" height="11.8" fill="#1aaf80" stroke="#2dc08e"/>
<path d="M870.3 681.0V681.5M870.3 687.3V694.2" stroke="#2dc08e" fill="none"/>
<rect x="868.0" y="682.0" width="4.600" height="4.8" fill="#1aaf80" stroke="#2dc08e"/>
<path d="M877.5 678.9V681.3M877.5 682.9V687.9" stroke="#f92855" fill="none"/>
<rect x="875.2" y="681.8" width="4.600" height="0.6" fill="#ff4d4f" stroke="#f92855"/>
<path d="M884.7 669.4V680.8M884.7 682.8V682.8" stroke="#2dc08e" fill="none"/>
<rect x="882.4" y="681.3" width="4.600" height="1.0" fill="#1aaf80" stroke="#2dc08e"/>
<path d="M891.9 657.0V657.3M891.9 680.8V683.7" stroke="#2dc08e" fill="none"/>
<rect x="889.6" y="657.8" width="4.600" height="22.4" fill="#1aaf80" stroke="#2dc08e"/>
<path d="M899.1 657.3V657.3M899.1 664.6V667.2" stroke="#f92855" fill="none"/>
<rect x="896.8" y="657.8" width="4.600" height="6.3" fill="#ff4d4f" stroke="#f92855"/>
<path d="M906.3 660.2V662.9M906.3 664.7V669.8" stroke="#2dc08e" fill="none"/>
<rect x="904.0" y="663.4" width="4.600" height="0.9" fill="#1aaf80" stroke="#2dc08e"/>
<path d="M913.5 661.4V662.9M913.5 676.4V697.1" stroke="#f92855" fill="none"/>
<rect x="911.2" y="663.4" width="4.600" height="12.5" fill="#ff4d4f" stroke="#f92855"/>
<path d="M920.7 665.0V672.6M920.7 676.4V685.4" stroke="#2dc08e" fill="none"/>
<rect x="918.4" y="673.1" width="4.600" height="2.8" fill="#1aaf80" stroke="#2dc08e"/>
<path d="M927.9 667.7V672.6M927.9 701.4V704.8" stroke="#f92855" fill="none"/>
<rect x="925.6" y="673.1" width="4.600" height="27.8" fill="#ff4d4f" stroke="#f92855"/>
<path d="M935.1 659.5V669.1M935.1 701.4V714.5" stroke="#2dc08e" fill="none"/>
<rect x="932.8" y="669.6" width="4.600" height="31.3" fill="#1aaf80" stroke="#2dc08e"/>
<path d="M942.3 628.6V651.2M942.3 669.2V671.4" stroke="#2dc08e" fill="none"/>
<rect x="940.0" y="651.7" width="4.600" height="17.0" fill="#1aaf80" stroke="#2dc08e"/>
<path d="M949.5 620.0V631.3M949.5 651.5V651.5" stroke="#2dc08e" fill="none"/>
<rect x="947.2" y="631.8" width="4.600" height="19.2" fill="#1aaf80" stroke="#2dc08e"/>
<path d="M956.7 604.4V613.3M956.7 631.7V632.6" stroke="#2dc08e" fill="none"/>
<rect x="954.4" y="613.8" width="4.600" height="17.5" fill="#1aaf80" stroke="#2dc08e"/>
<path d="M963.9 612.9V613.3M963.9 635.0V647.7" stroke="#f92855" fill="none"/>
<rect x="961.6" y="613.8" width="4.600" height="20.7" fill="#ff4d4f" stroke="#f92855"/>
<path d="M971.1 610.2V611.3M971.1 635.0V637.5" stroke="#2dc08e" fill="none"/>
<rect x="968.8" y="611.8" width="4.600" height="22.7" fill="#1aaf80" stroke="#2dc08e"/>
<path d="M978.3 600.9V608.2M978.3 611.5V618.6" stroke="#2dc08e" fill="none"/>
<rect x="976.0" y="608.7" width="4.600" height="2.3" fill="#1aaf80" stroke="#2dc08e"/>
<path d="M985.5 604.0V608.2M985.5 614.6V623.3" stroke="#f92855" fill="none"/>
<rect x="983.2" y="608.7" width="4.600" height="5.3" fill="#ff4d4f" stroke="#f92855"/>
<path d="M992.7 598.2V603.3M992.7 614.6V616.0" stroke="#2dc08e" fill="none"/>
<rect x="990.4" y="603.8" width="4.600" height="10.2" fill="#1aaf80" stroke="#2dc08e"/>
<path d="M999.9 602.9V603.3M999.9 616.4V620.6" stroke="#f92855" fill="none"/>
<rect x="997.6" y="603.8" width="4.600" height="12.1" fill="#ff4d4f" stroke="#f92855"/>
<path d="M1007.1 615.9V616.2M1007.1 621.7V628.2" stroke="#f92855" fill="none"/>
<rect x="1004.8" y="616.7" width="4.600" height="4.5" fill="#ff4d4f" stroke="#f92855"/>
<path d="M1014.2 616.4V618.2M1014.2 621.7V632.8" stroke="#2dc08e" fill="none"/>
<rect x="1011.9" y="618.7" width="4.600" height="2.5" fill="#1aaf80" stroke="#2dc08e"/>
<path d="M1021.4 614.6V618.2M1021.4 635.0V641.3" stroke="#f92855" fill="none"/>
<rect x="1019.1" y="618.7" width="4.600" height="15.8" fill="#ff4d4f" stroke="#f92855"/>
<path d="M1028.6 617.3V633.8M1028.6 635.4V635.1" stroke="#2dc08e" fill="none"/>
<rect x="1026.3" y="634.3" width="4.600" height="0.6" fill="#1aaf80" stroke="#2dc08e"/>
<path d="M1035.8 629.1V633.7M1035.8 635.3V638.6" stroke="#2dc08e" fill="none"/>
<rect x="1033.5" y="634.2" width="4.600" height="0.6" fill="#1aaf80" stroke="#2dc08e"/>
<path d="M1043.0 623.9V624.1M1043.0 634.5V639.5" stroke="#2dc08e" fill="none"/>
<rect x="1040.7" y="624.6" width="4.600" height="9.4" fill="#1aaf80" stroke="#2dc08e"/>
<path d="M1050.2 622.8V624.4M1050.2 628.2V638.6" stroke="#f92855" fill="none"/>
<rect x="1047.9" y="624.9" width="4.600" height="2.8" fill="#ff4d4f" stroke="#f92855"/>
<path d="M1057.4 626.6V626.9M1057.4 628.5V644.6" stroke="#2dc08e" fill="none"/>
<rect x="1055.1" y="627.4" width="4.600" height="0.6" fill="#1aaf80" stroke="#2dc08e"/>
<path d="M1064.6 625.5V627.1M1064.6 637.7V637.7" stroke="#f92855" fill="none"/>
<rect x="1062.3" y="627.6" width="4.600" height="9.6" fill="#ff4d4f" stroke="#f92855"/>
<path d="M1071.8 635.3V637.5M1071.8 641.6V650.4" stroke="#f92855" fill="none"/>
<rect x="1069.5" y="638.0" width="4.600" height="3.0" fill="#ff4d4f" stroke="#f92855"/>
<path d="M1079.0 629.1V635.1M1079.0 641.6V647.3" stroke="#2dc08e" fill="none"/>
<rect x="1076.7" y="635.6" width="4.600" height="5.4" fill="#1aaf80" stroke="#2dc08e"/>
<path d="M1086.2 627.1V635.1M1086.2 640.6V645.7" stroke="#f92855" fill="none"/>
<rect x="1083.9" y="635.6" width="4.600" height="4.5" fill="#ff4d4f" stroke="#f92855"/>
<path d="M1093.4 637.7V640.2M1093.4 653.0V657.3" stroke="#f92855" fill="none"/>
<rect x="1091.1" y="640.7" width="4.600" height="11.8" fill="#ff4d4f" stroke="#f92855"/>
<path d="M1100.6 634.1V648.1M1100.6 653.0V656.8" stroke="#2dc08e" fill="none"/>
<rect x="1098.3" y="648.6" width="4.600" height="3.9" fill="#1aaf80" stroke="#2dc08e"/>
<path d="M1107.8 619.1V643.1M1107.8 648.6V652.2" stroke="#2dc08e" fill="none"/>
<rect x="1105.5" y="643.6" width="4.600" height="4.5" fill="#1aaf80" stroke="#2dc08e"/>
<path d="M1115.0 641.5V643.1M1115.0 656.8V661.7" stroke="#f92855" fill="none"/>
<rect x="1112.7" y="643.6" width="4.600" height="12.7" fill="#ff4d4f" stroke="#f92855"/>
<path d="M1122.2 648.6V656.2M1122.2 665.9V667.2" stroke="#f92855" fill="none"/>
<rect x="1119.9" y="656.7" width="4.600" height="8.6" fill="#ff4d4f" stroke="#f92855"/>
<path d="M1129.4 655.2V656.2M1129.4 665.9V670.4" stroke="#2dc08e" fill="none"/>
<rect x="1127.1" y="656.7" width="4.600" height="8.6" fill="#1aaf80" stroke="#2dc08e"/>
<path d="M1136.6 645.0V648.3M1136.6 656.8V660.1" stroke="#2dc08e" fill="none"/>
<rect x="1134.3" y="648.8" width="4.600" height="7.5" fill="#1aaf80" stroke="#2dc08e"/>
<path d="M1143.8 642.0V648.3M1143.8 664.7V667.5" stroke="#f92855" fill="none"/>
<rect x="1141.5" y="648.8" width="4.600" height="15.4" fill="#ff4d4f" stroke="#f92855"/>
<path d="M1151.0 648.6V656.2M1151.0 664.7V672.1" stroke="#2dc08e" fill="none"/>
<rect x="1148.7" y="656.7" width="4.600" height="7.4" fill="#1aaf80" stroke="#2dc08e"/>
<path d="M1158.2 650.5V655.3M1158.2 656.9V669.0" stroke="#2dc08e" fill="none"/>
<rect x="1155.9" y="655.8" width="4.600" height="0.6" fill="#1aaf80" stroke="#2dc08e"/>
<path d="M1165.4 648.4V652.2M1165.4 655.7V658.4" stroke="#2dc08e" fill="none"/>
<rect x="1163.1" y="652.7" width="4.600" height="2.5" fill="#1aaf80" stroke="#2dc08e"/>
<path d="M1172.6 651.0V652.1M1172.6 663.7V669.9" stroke="#f92855" fill="none"/>
<rect x="1170.3" y="652.6" width="4.600" height="10.6" fill="#ff4d4f" stroke="#f92855"/>
<path d="M1179.8 650.6V654.6M1179.8 663.9V664.7" stroke="#2dc08e" fill="none"/>
<rect x="1177.5" y="655.1" width="4.600" height="8.3" fill="#1aaf80" stroke="#2dc08e"/>
<path d="M1187.0 646.2V650.2M1187.0 654.8V665.9" stroke="#2dc08e" fill="none"/>
<rect x="1184.7" y="650.7" width="4.600" height="3.6" fill="#1aaf80" stroke="#2dc08e"/>
<path d="M1194.2 625.1V635.8M1194.2 650.8V652.8" stroke="#2dc08e" fill="none"/>
<rect x="1191.9" y="636.3" width="4.600" height="14.0" fill="#1aaf80" stroke="#2dc08e"/>
<path d="M1201.4 631.7V636.0M1201.4 640.7V646.7" stroke="#f92855" fill="none"/>
<rect x="1199.1" y="636.5" width="4.600" height="3.7" fill="#ff4d4f" stroke="#f92855"/>
<path d="M1208.6 628.6V639.2M1208.6 640.8V643.1" stroke="#2dc08e" fill="none"/>
<rect x="1206.3" y="639.7" width="4.600" height="0.6" fill="#1aaf80" stroke="#2dc08e"/>
<path d="M1215.8 634.2V636.0M1215.8 639.6V644.0" stroke="#2dc08e" fill="none"/>
<rect x="1213.5" y="636.5" width="4.600" height="2.6" fill="#1aaf80" stroke="#2dc08e"/>
<path d="M1223.0 623.4V634.1M1223.0 636.1V640.5" stroke="#2dc08e" fill="none"/>
<rect x="1220.7" y="634.6" width="4.600" height="1.0" fill="#1aaf80" stroke="#2dc08e"/>
<path d="M1230.2 612.7V620.0M1230.2 634.3V634.3" stroke="#2dc08e" fill="none"/>
<rect x="1227.9" y="620.5" width="4.600" height="13.3" fill="#1aaf80" stroke="#2dc08e"/>
<path d="M1237.4 608.0V618.4M1237.4 620.0V620.7" stroke="#2dc08e" fill="none"/>
<rect x="1235.1" y="618.9" width="4.600" height="0.6" fill="#1aaf80" stroke="#2dc08e"/>
<path d="M1244.6 618.0V618.2M1244.6 619.8V629.8" stroke="#f92855" fill="none"/>
<rect x="1242.3" y="618.7" width="4.600" height="0.6" fill="#ff4d4f" stroke="#f92855"/>
<path d="M1251.8 618.7V619.4M1251.8 633.4V636.7" stroke="#f92855" fill="none"/>
<rect x="1249.5" y="619.9" width="4.600" height="13.0" fill="#ff4d4f" stroke="#f92855"/>
<path d="M1259.0 631.7V633.0M1259.0 642.5V642.5" stroke="#f92855" fill="none"/>
<rect x="1256.7" y="633.5" width="4.600" height="8.5" fill="#ff4d4f" stroke="#f92855"/>
<path d="M1266.2 641.4V642.1M1266.2 654.8V670.8" stroke="#f92855" fill="none"/>
<rect x="1263.9" y="642.6" width="4.600" height="11.7" fill="#ff4d4f" stroke="#f92855"/>
<path d="M1273.4 622.0V636.1M1273.4 654.8V660.1" stroke="#2dc08e" fill="none"/>
<rect x="1271.1" y="636.6" width="4.600" height="17.7" fill="#1aaf80" stroke="#2dc08e"/>
<path d="M1280.6 484.1V497.0M1280.6 636.1V636.1" stroke="#2dc08e" fill="none"/>
<rect x="1278.3" y="497.5" width="4.600" height="138.1" fill="#1aaf80" stroke="#2dc08e"/>
<path d="M1287.8 475.3V496.0M1287.8 497.7V497.7" stroke="#2dc08e" fill="none"/>
<rect x="1285.5" y="496.5" width="4.600" height="0.7" fill="#1aaf80" stroke="#2dc08e"/>
<path d="M1295.0 426.1V441.0M1295.0 496.5V496.5" stroke="#2dc08e" fill="none"/>
<rect x="1292.7" y="441.5" width="4.600" height="54.5" fill="#1aaf80" stroke="#2dc08e"/>
<path d="M1302.2 397.2V418.4M1302.2 441.0V441.0" stroke="#2dc08e" fill="none"/>
<rect x="1299.9" y="418.9" width="4.600" height="21.6" fill="#1aaf80" stroke="#2dc08e"/>
<path d="M1309.4 415.0V418.4M1309.4 422.7V438.3" stroke="#f92855" fill="none"/>
<rect x="1307.1" y="418.9" width="4.600" height="3.2" fill="#ff4d4f" stroke="#f92855"/>
<path d="M1316.6 392.4V404.0M1316.6 422.3V424.7" stroke="#2dc08e" fill="none"/>
<rect x="1314.3" y="404.5" width="4.600" height="17.3" fill="#1aaf80" stroke="#2dc08e"/>
<path d="M1323.8 389.0V396.8M1323.8 404.5V411.6" stroke="#2dc08e" fill="none"/>
<rect x="1321.5" y="397.3" width="4.600" height="6.6" fill="#1aaf80" stroke="#2dc08e"/>
<path d="M1331.0 380.2V395.7M1331.0 397.3V401.9" stroke="#2dc08e" fill="none"/>
<rect x="1328.7" y="396.2" width="4.600" height="0.6" fill="#1aaf80" stroke="#2dc08e"/>
<path d="M1338.2 394.3V395.8M1338.2 413.3V419.3" stroke="#f92855" fill="none"/>
<rect x="1335.9" y="396.3" width="4.600" height="16.5" fill="#ff4d4f" stroke="#f92855"/>
<path d="M1345.4 398.0V404.0M1345.4 413.3V413.3" stroke="#2dc08e" fill="none"/>
<rect x="1343.1" y="404.5" width="4.600" height="8.3" fill="#1aaf80" stroke="#2dc08e"/>
<path d="M1352.6 404.0V404.0M1352.6 413.8V416.4" stroke="#f92855" fill="none"/>
<rect x="1350.3" y="404.5" width="4.600" height="8.9" fill="#ff4d4f" stroke="#f92855"/>
<path d="M1359.8 410.4V413.8M1359.8 426.6V436.2" stroke="#f92855" fill="none"/>
<rect x="1357.5" y="414.3" width="4.600" height="11.7" fill="#ff4d4f" stroke="#f92855"/>
<path d="M1367.0 421.3V426.4M1367.0 454.4V475.3" stroke="#f92855" fill="none"/>
<rect x="1364.7" y="426.9" width="4.600" height="27.0" fill="#ff4d4f" stroke="#f92855"/>
<path d="M1374.2 451.2V454.1M1374.2 462.6V471.4" stroke="#f92855" fill="none"/>
<rect x="1371.9" y="454.6" width="4.600" height="7.5" fill="#ff4d4f" stroke="#f92855"/>
<path d="M1381.4 440.1V441.0M1381.4 462.6V462.6" stroke="#2dc08e" fill="none"/>
<rect x="1379.1" y="441.5" width="4.600" height="20.6" fill="#1aaf80" stroke="#2dc08e"/>
<path d="M1388.6 432.3V438.8M1388.6 440.8V449.0" stroke="#2dc08e" fill="none"/>
<rect x="1386.3" y="439.3" width="4.600" height="1.0" fill="#1aaf80" stroke="#2dc08e"/>
<path d="M1395.8 434.3V439.1M1395.8 441.1V446.4" stroke="#f92855" fill="none"/>
<rect x="1393.5" y="439.6" width="4.600" height="0.9" fill="#ff4d4f" stroke="#f92855"/>
<path d="M1403.0 439.1V440.9M1403.0 454.7V457.1" stroke="#f92855" fill="none"/>
<rect x="1400.7" y="441.4" width="4.600" height="12.8" fill="#ff4d4f" stroke="#f92855"/>
<path d="M1410.2 447.4V452.5M1410.2 454.7V461.5" stroke="#2dc08e" fill="none"/>
<rect x="1407.9" y="453.0" width="4.600" height="1.1" fill="#1aaf80" stroke="#2dc08e"/>
<path d="M1417.4 442.0V444.2M1417.4 452.5V457.9" stroke="#2dc08e" fill="none"/>
<rect x="1415.1" y="444.7" width="4.600" height="7.3" fill="#1aaf80" stroke="#2dc08e"/>
<path d="M1424.6 441.1V444.2M1424.6 455.4V455.6" stroke="#f92855" fill="none"/>
<rect x="1422.3" y="444.7" width="4.600" height="10.3" fill="#ff4d4f" stroke="#f92855"/>
<path d="M1431.8 447.2V455.3M1431.8 458.8V464.9" stroke="#f92855" fill="none"/>
<rect x="1429.5" y="455.8" width="4.600" height="2.5" fill="#ff4d4f" stroke="#f92855"/>
<path d="M1439.0 445.7V454.4M1439.0 458.8V463.4" stroke="#2dc08e" fill="none"/>
<rect x="1436.7" y="454.9" width="4.600" height="3.5" fill="#1aaf80" stroke="#2dc08e"/>
<path d="M1446.2 445.7V452.4M1446.2 454.7V457.8" stroke="#2dc08e" fill="none"/>
<rect x="1443.9" y="452.9" width="4.600" height="1.2" fill="#1aaf80" stroke="#2dc08e"/>
<path d="M1453.4 436.4V450.0M1453.4 452.7V454.2" stroke="#2dc08e" fill="none"/>
<rect x="1451.1" y="450.5" width="4.600" height="1.7" fill="#1aaf80" stroke="#2dc08e"/>
<path d="M1460.6 431.2V439.1M1460.6 450.0V451.6" stroke="#2dc08e" fill="none"/>
<rect x="1458.3" y="439.6" width="4.600" height="9.9" fill="#1aaf80" stroke="#2dc08e"/>
<path d="M1467.8 435.0V439.1M1467.8 442.8V442.8" stroke="#f92855" fill="none"/>
<rect x="1465.5" y="439.6" width="4.600" height="2.7" fill="#ff4d4f" stroke="#f92855"/>
<path d="M1475.0 438.6V440.1M1475.0 442.8V448.8" stroke="#2dc08e" fill="none"/>
<rect x="1472.7" y="440.6" width="4.600" height="1.7" fill="#1aaf80" stroke="#2dc08e"/>
<path d="M1482.2 436.0V437.2M1482.2 440.6V441.6" stroke="#2dc08e" fill="none"/>
<rect x="1479.9" y="437.7" width="4.600" height="2.4" fill="#1aaf80" stroke="#2dc08e"/>
<path d="M1489.4 435.0V435.4M1489.4 437.5V439.9" stroke="#2dc08e" fill="none"/>
<rect x="1487.1" y="435.9" width="4.600" height="1.0" fill="#1aaf80" stroke="#2dc08e"/>
<path d="M1496.5 435.0V435.4M1496.5 438.6V442.8" stroke="#f92855" fill="none"/>
<rect x="1494.2" y="435.9" width="4.600" height="2.2" fill="#ff4d4f" stroke="#f92855"/>
<path d="M1503.7 438.2V437.9M1503.7 439.5V444.7" stroke="#f92855" fill="none"/>
<rect x="1501.4" y="438.4" width="4.600" height="0.6" fill="#ff4d4f" stroke="#f92855"/>
<path d="M1510.9 423.1V425.3M1510.9 439.3V439.3" stroke="#2dc08e" fill="none"/>
<rect x="1508.6" y="425.8" width="4.600" height="13.0" fill="#1aaf80" stroke="#2dc08e"/>
<path d="M1518.1 418.7V425.3M1518.1 427.8V431.6" stroke="#f92855" fill="none"/>
<rect x="1515.8" y="425.8" width="4.600" height="1.4" fill="#ff4d4f" stroke="#f92855"/>
</g>
<path d="M43.0 566.7L71.2 566.7L78.4 591.1L85.6 600.8L107.2 600.8L114.4 603.5L251.2 603.4L258.4 601.0L366.4 600.2L373.6 595.7L380.8 594.4L388.0 594.1L395.2 593.5L402.4 593.3L409.6 591.9L460.0 591.9L467.2 589.7L474.4 581.1L488.8 581.1L496.0 595.6L503.2 628.0L510.4 640.5L517.6 640.5L524.8 649.4L531.9 662.1L546.3 662.1L553.5 663.8L675.9 663.7L683.1 670.3L690.3 677.2L755.1 677.2L762.3 681.5L769.5 687.8L776.7 700.4L783.9 703.4L791.1 707.4L798.3 711.5L819.9 711.6L827.1 731.0L834.3 731.0L841.5 733.7L978.3 733.7L985.5 715.0L1071.8 715.0L1079.0 671.8L1086.2 651.7L1093.4 658.4L1107.8 658.4L1115.0 663.3L1122.2 668.6L1129.4 671.0L1143.8 671.0L1151.0 672.9L1287.8 672.9L1295.0 670.7L1403.0 670.6L1410.2 659.9L1417.4 636.7L1424.6 498.4L1431.8 496.2L1439.0 476.0L1503.7 476.2L1510.9 471.7" stroke="#f8433f" stroke-width="1.8" fill="none" stroke-linejoin="round"/>
<path d="M42.7 617.9L60.0 616.0L92.8 613.0L120.0 611.2L149.3 609.7L175.0 608.4L200.0 607.5L216.7 607.1L256.7 605.6L310.0 604.0L345.0 602.5L373.4 600.7L406.7 597.3L433.4 594.8L460.0 593.4L495.0 592.1L524.7 592.6L554.0 595.2L590.0 597.2L623.4 597.6L650.0 598.6L677.9 600.0L712.8 602.4L747.7 603.8L771.0 605.6L798.3 609.0L819.7 611.8L833.7 613.4L841.2 615.0L848.7 616.0L856.3 616.2L870.2 617.9L877.2 618.7L884.7 618.9L891.7 619.8L898.1 620.0L906.2 620.7L913.2 620.9L927.1 622.3L934.7 622.5L942.2 623.2L960.0 623.1L978.2 623.3L985.3 622.5L1042.7 622.2L1050.3 623.1L1086.3 622.9L1093.3 624.3L1100.0 624.4L1115.1 624.0L1122.8 625.1L1137.0 625.3L1144.6 626.2L1157.7 626.8L1173.0 627.0L1180.6 627.8L1240.0 627.9L1260.0 627.8L1266.7 628.7L1273.4 628.8L1280.5 627.0L1293.3 624.4L1301.0 622.1L1324.3 614.6L1344.5 609.3L1360.0 605.5L1387.9 599.1L1418.9 592.9L1440.6 588.7L1474.8 582.0L1510.5 575.0" stroke="#1e88f2" stroke-width="2" fill="none" stroke-linejoin="round"/>
<g stroke="#d4d6d9" stroke-width="1" fill="none">
<path d="M42.5 310V790" stroke="#e2e2e2"/><path d="M42 769.5H1595"/><path d="M1594.5 309V770"/>
<path d="M1594 332.0h4"/>
<path d="M1594 374.7h4"/>
<path d="M1594 417.4h4"/>
<path d="M1594 460.2h4"/>
<path d="M1594 502.9h4"/>
<path d="M1594 545.6h4"/>
<path d="M1594 588.3h4"/>
<path d="M1594 673.8h4"/>
<path d="M1594 716.5h4"/>
<path d="M92.84 769v3"/>
<path d="M308.80 769v3"/>
<path d="M524.75 769v3"/>
<path d="M740.71 769v3"/>
<path d="M956.66 769v3"/>
<path d="M1172.62 769v3"/>
<path d="M1388.57 769v3"/>
</g>
<g font-size="10.7" fill="#76808f">
<text x="1601.5" y="335.8">5,000.00</text>
<text x="1601.5" y="378.5">4,900.00</text>
<text x="1601.5" y="421.2">4,800.00</text>
<text x="1601.5" y="464.0">4,700.00</text>
<text x="1601.5" y="506.7">4,600.00</text>
<text x="1601.5" y="549.4">4,500.00</text>
<text x="1601.5" y="592.1">4,400.00</text>
<text x="1601.5" y="677.6">4,200.00</text>
<text x="1601.5" y="720.3">4,100.00</text>
<text x="93.3" y="785.3" text-anchor="middle">08-16</text>
<text x="309.3" y="785.3" text-anchor="middle">08-17</text>
<text x="525.3" y="785.3" text-anchor="middle">08-18</text>
<text x="741.2" y="785.3" text-anchor="middle">08-19</text>
<text x="957.2" y="785.3" text-anchor="middle">08-21</text>
<text x="1173.1" y="785.3" text-anchor="middle">08-22</text>
<text x="1389.1" y="785.3" text-anchor="middle">08-23</text>
</g>
<path d="M43 628.6H1594" stroke="#a8a8a8" stroke-width="0.95" stroke-dasharray="3.64 1.82" fill="none"/>
<path d="M1273.4 310V769" stroke="#a6a6a6" stroke-width="0.95" stroke-dasharray="3.64 1.82" fill="none"/>
<path d="M1594 620h47a2 2 0 0 1 2 2v13.500a2 2 0 0 1-2 2h-47z" fill="#d9d9d9"/>
<text x="1598" y="631.7" font-size="10.7" fill="#ffffff">4,305.78</text>
<rect x="1227.600" y="769.500" width="91.300" height="17.300" rx="2" fill="#d8d8d8"/>
<text x="1273.400" y="780.9" font-size="10.7" fill="#ffffff" text-anchor="middle">2025-08-22 21:00</text>
<path d="M1279.600 659.400V650.300H1276.300L1280.500 646.100L1284.800 650.300H1281.400V659.400Z" fill="#2f5bf5"/>
<g fill="#6a84f5" text-anchor="middle"><text x="1280.700" y="671.6" font-size="9.2">buy</text><text x="1280.800" y="681.9" font-size="8.3" fill="#9aabf8">1</text></g>
<path d="M1273 492.500l6 4.500l-6 4.500z" fill="#2f5bf5"/>
<g font-size="10.600" fill="#76808f">
<text x="51.5" y="327" style="white-space:pre" word-spacing="2.1">O=<tspan fill="#27a981">4243.34</tspan> H=<tspan fill="#27a981">4319.98</tspan> L=<tspan fill="#27a981">4231.5</tspan> C=<tspan fill="#27a981">4288.38</tspan> V=<tspan fill="#27a981">581684.66</tspan> CHANGE=<tspan fill="#27a981">1.06%</tspan> AMPLITUDE=<tspan fill="#27a981">2.09%</tspan></text>
<g transform="translate(50.500 341.20)" stroke="#76808f" stroke-width="0.9" fill="none"><path d="M0.300 0C2.500 -3.400 4.800 -3.800 6.750 -3.800S11 -3.400 13.200 0C11 3.400 8.700 3.800 6.750 3.800S2.500 3.400 0.300 0Z"/><circle cx="6.750" cy="0" r="1.900"/></g>
<text x="68.4" y="345.0">bar</text>
<g transform="translate(50.500 358.85)" stroke="#76808f" stroke-width="0.9" fill="none"><path d="M0.300 0C2.500 -3.400 4.800 -3.800 6.750 -3.800S11 -3.400 13.200 0C11 3.400 8.700 3.800 6.750 3.800S2.500 3.400 0.300 0Z"/><circle cx="6.750" cy="0" r="1.900"/></g>
<text x="68.4" y="362.6">EMA 200<tspan x="117.6" fill="#2590f0">4,306.03</tspan></text>
<g transform="translate(50.500 376.50)" stroke="#76808f" stroke-width="0.9" fill="none"><path d="M0.300 0C2.500 -3.400 4.800 -3.800 6.750 -3.800S11 -3.400 13.200 0C11 3.400 8.700 3.800 6.750 3.800S2.500 3.400 0.300 0Z"/><circle cx="6.750" cy="0" r="1.900"/></g>
<text x="68.4" y="380.3" letter-spacing="-0.12">&lt;EMA 200_91&gt;<tspan x="145.8" fill="#f44545">4,202</tspan></text>
<g transform="translate(50.500 394.15)" stroke="#76808f" stroke-width="0.9" fill="none"><path d="M0.300 0C2.500 -3.400 4.800 -3.800 6.750 -3.800S11 -3.400 13.200 0C11 3.400 8.700 3.800 6.750 3.800S2.500 3.400 0.300 0Z"/><circle cx="6.750" cy="0" r="1.900"/></g>
<text x="68.4" y="397.9">signal</text>
</g>
<g id="tools" stroke="#4d4d4d" stroke-width="1" fill="none" stroke-linecap="butt">
<path d="M20.8 324.5L34.9 324.5"/>
<circle cx="27.6" cy="324.5" r="1.55" fill="#4d4d4d" stroke="none"/>
<path d="M20.6 352.5L34.9 352.5"/>
<circle cx="21.8" cy="352.5" r="1.55" fill="#4d4d4d" stroke="none"/>
<circle cx="28.6" cy="352.5" r="1.55" fill="#4d4d4d" stroke="none"/>
<path d="M21.8 380.5L33.6 380.5"/>
<circle cx="21.8" cy="380.5" r="1.55" fill="#4d4d4d" stroke="none"/>
<circle cx="33.6" cy="380.5" r="1.55" fill="#4d4d4d" stroke="none"/>
<path d="M27.5 401.0L27.5 416.6"/>
<circle cx="27.5" cy="408.6" r="1.55" fill="#4d4d4d" stroke="none"/>
<path d="M27.5 429.2L27.5 442.6"/>
<circle cx="27.5" cy="435.6" r="1.55" fill="#4d4d4d" stroke="none"/>
<circle cx="27.5" cy="442.4" r="1.55" fill="#4d4d4d" stroke="none"/>
<path d="M27.5 457.9L27.5 469.5"/>
<circle cx="27.5" cy="457.9" r="1.55" fill="#4d4d4d" stroke="none"/>
<circle cx="27.5" cy="469.5" r="1.55" fill="#4d4d4d" stroke="none"/>
<path d="M22.1 497.4L33.6 486.3"/>
<circle cx="25.7" cy="493.7" r="1.55" fill="#4d4d4d" stroke="none"/>
<circle cx="29.7" cy="489.9" r="1.55" fill="#4d4d4d" stroke="none"/>
<path d="M23.4 523.6L33.9 513.9"/>
<circle cx="23.4" cy="523.6" r="1.55" fill="#4d4d4d" stroke="none"/>
<circle cx="28.6" cy="518.8" r="1.55" fill="#4d4d4d" stroke="none"/>
<path d="M22.7 552.6L31.5 543.7"/>
<circle cx="22.7" cy="552.6" r="1.55" fill="#4d4d4d" stroke="none"/>
<circle cx="31.5" cy="543.7" r="1.55" fill="#4d4d4d" stroke="none"/>
<path d="M21.6 577.5L34.9 577.5"/>
<circle cx="21.6" cy="577.5" r="1.55" fill="#4d4d4d" stroke="none"/>
<text x="24" y="575.6" font-size="6" font-weight="700" fill="#4d4d4d" stroke="none" textLength="10" lengthAdjust="spacingAndGlyphs">123</text>
<path d="M19.8 607.0L31.0 596.2"/>
<circle cx="25.4" cy="601.6" r="1.55" fill="#4d4d4d" stroke="none"/>
<path d="M24.2 612.0L35.2 601.3"/>
<circle cx="27.6" cy="608.6" r="1.55" fill="#4d4d4d" stroke="none"/>
<circle cx="31.7" cy="604.6" r="1.55" fill="#4d4d4d" stroke="none"/>
<path d="M20.3 632.6L28.8 624.6"/>
<path d="M22.3 637.2L33.4 626.3"/>
<circle cx="25.7" cy="633.8" r="1.55" fill="#4d4d4d" stroke="none"/>
<circle cx="29.5" cy="630.1" r="1.55" fill="#4d4d4d" stroke="none"/>
<path d="M27.1 638.4L35.2 630.4"/>
<circle cx="30.7" cy="634.8" r="1.55" fill="#4d4d4d" stroke="none"/>
<path d="M19.9 654.5L35.9 654.5"/>
<path d="M19.9 657.5L35.9 657.5"/>
<path d="M19.9 660.3L35.9 660.3"/>
<path d="M19.9 663.2L35.9 663.2"/>
<path d="M19.9 666.1L35.9 666.1"/>
<circle cx="23.8" cy="654.5" r="1.55" fill="#4d4d4d" stroke="none"/>
<circle cx="31.6" cy="654.5" r="1.55" fill="#4d4d4d" stroke="none"/>
<circle cx="27.6" cy="666.1" r="1.55" fill="#4d4d4d" stroke="none"/>
<path d="M19.8 682H35.9M25 682a2.600 2.600 0 0 1 5.200 0M21.500 682.300V693.200a2.500 2.500 0 0 0 2.500 2.500h7.900a2.500 2.500 0 0 0 2.500-2.500V682.300M25.900 685v7.300M29.700 685v7.300" stroke="#444"/>
</g>
<g stroke="#444" stroke-width="1" fill="none"><rect x="51.500" y="776.500" width="10" height="9" rx="1"/><path d="M51.500 779.500h10M54 775v2.500M59 775v2.500"/></g>
</svg>
 <div class="btns"><span style="left:0;width:42px">Order</span><i style="left:42px"></i><span style="left:43px;width:59px">Indicator</span><i style="left:102px"></i>
 <svg style="position:absolute;left:106px;top:4px" width="12" height="12" viewBox="0 0 12 12"><g stroke="#666" stroke-width="1" fill="none"><path d="M1 1l3.200 3.200M11 1l-3.200 3.200M1 11l3.200-3.200M11 11l-3.200-3.200"/><path d="M4.600 1.800v2.800h-2.800M7.400 1.800v2.800h2.800M4.600 10.200v-2.800h-2.800M7.400 10.200v-2.800h2.800" stroke-width="0.9"/></g></svg></div>
</div>
<div class="card" id="c3"></div>
<div class="totop"><svg width="36" height="36" viewBox="0 0 36 36"><g stroke="#3a3a3a" stroke-width="1.1" fill="none"><path d="M11.500 12.500h13"/><path d="M18 24v-8"/><path d="M15.800 18l2.200-2.300l2.200 2.300" /></g></svg></div>
</body></html>
